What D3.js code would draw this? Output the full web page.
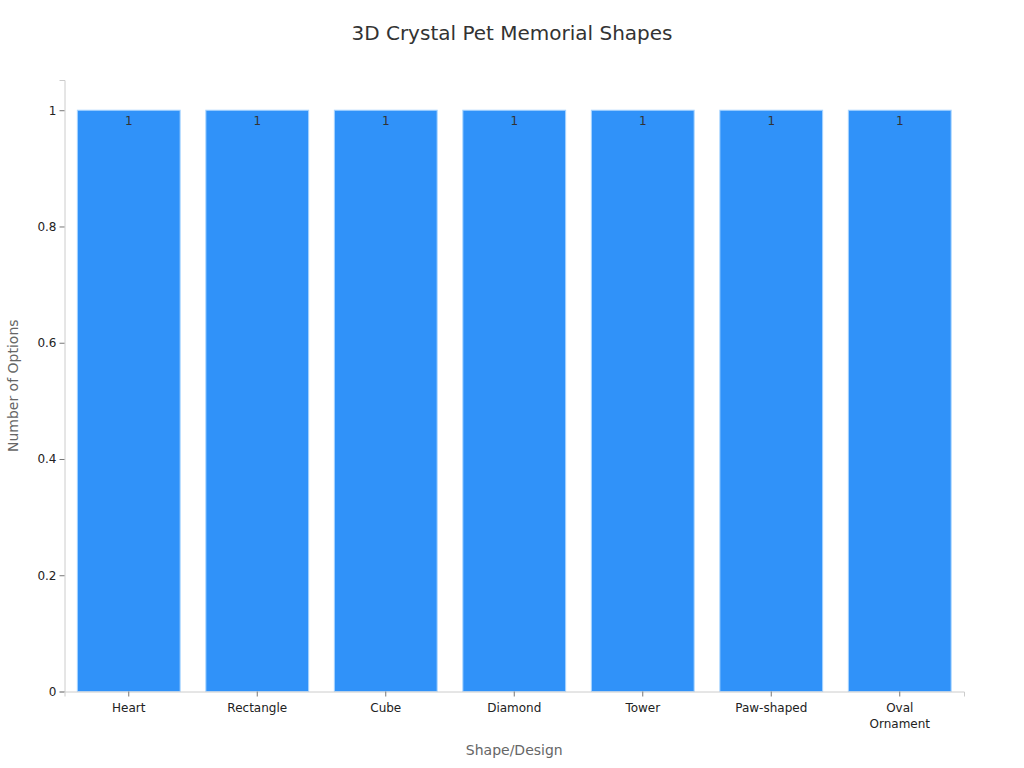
<!DOCTYPE html>
<html><head><meta charset="utf-8">
<script src="https://cdn.jsdelivr.net/npm/d3@7"></script>
<style>body{margin:0;background:#fff;font-family:"DejaVu Sans",sans-serif;}</style>
</head><body><div id="chart"></div>
<script>
const categories = ["Heart","Rectangle","Cube","Diamond","Tower","Paw-shaped","Oval Ornament"];
const values = [1,1,1,1,1,1,1];
const yTicks = [0,0.2,0.4,0.6,0.8,1];

const W = 1024, H = 768;
const margin = {top: 80, right: 60, bottom: 76.5, left: 64.5};
const svg = d3.select("#chart").append("svg").attr("width", W).attr("height", H);

const x = d3.scaleBand().domain(categories).range([margin.left, W - margin.right]).paddingInner(0.2).paddingOuter(0.1);
const y = d3.scaleLinear().domain([0, 1.052]).range([H - margin.bottom, margin.top]);

svg.append("text").attr("x", 512).attr("y", 40).attr("text-anchor", "middle")
  .attr("font-size", 20).attr("fill", "#333").text("3D Crystal Pet Memorial Shapes");

svg.selectAll("rect.bar").data(values).enter().append("rect").attr("class", "bar")
  .attr("x", (d, i) => x(categories[i])).attr("width", x.bandwidth())
  .attr("y", d => y(d)).attr("height", d => y(0) - y(d))
  .attr("fill", "#3092f9").attr("stroke", "#a8d4ff").attr("stroke-width", 1);

svg.selectAll("text.val").data(values).enter().append("text").attr("class", "val")
  .attr("x", (d, i) => x(categories[i]) + x.bandwidth() / 2).attr("y", d => y(d) + 15)
  .attr("text-anchor", "middle").attr("font-size", 12).attr("fill", "#333").text(d => d);

const yAxis = svg.append("g").attr("transform", `translate(${margin.left},0)`)
  .call(d3.axisLeft(y).tickValues(yTicks).tickFormat(d3.format("~g")).tickSizeOuter(0).tickSize(5));
const xAxis = svg.append("g").attr("transform", `translate(0,${y(0)})`)
  .call(d3.axisBottom(x).tickSizeOuter(0).tickSize(5).tickPadding(7));
[xAxis, yAxis].forEach(a => {
  a.select(".domain").attr("stroke", "#ccc");
  a.selectAll(".tick line").attr("stroke", "#777");
  a.selectAll("text").attr("font-size", 12).attr("fill", "#222").attr("font-family", "DejaVu Sans");
});
xAxis.selectAll(".tick text").each(function(d) {
  const t = d3.select(this), words = d.split(" ");
  if (words.length > 1) {
    t.text(null);
    words.forEach((w, i) => t.append("tspan").attr("x", 0).attr("dy", i ? "1.35em" : "0.71em").text(w));
  }
});

svg.append("text").attr("x", (margin.left + W - margin.right) / 2).attr("y", 755).attr("text-anchor", "middle")
  .attr("font-size", 14).attr("fill", "#666").text("Shape/Design");
svg.append("text").attr("transform", `translate(18,${(margin.top + y(0)) / 2}) rotate(-90)`)
  .attr("text-anchor", "middle").attr("font-size", 14).attr("fill", "#666").text("Number of Options");
</script></body></html>
